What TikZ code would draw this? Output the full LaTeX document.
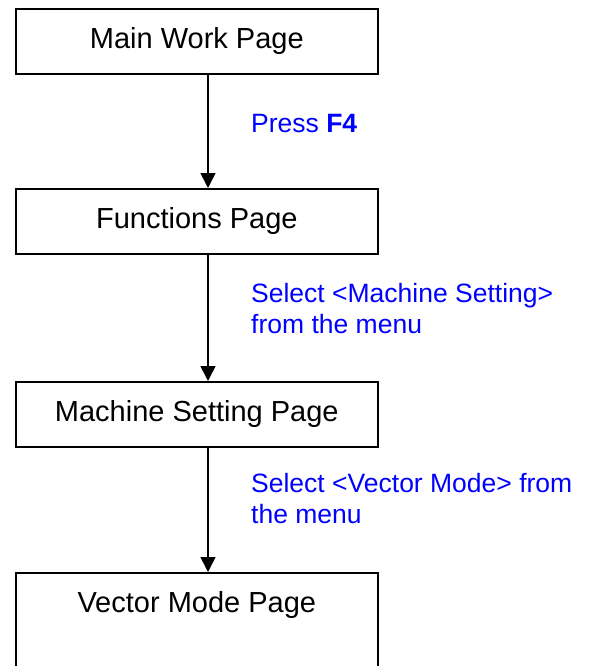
\documentclass[tikz,border=0pt]{standalone}
\usepackage{fontspec}
\setmainfont{Liberation Sans}
\usetikzlibrary{arrows.meta}
\begin{document}
\begin{tikzpicture}[x=1pt,y=1pt,
  pagebox/.style={draw=black, line width=1.6pt, anchor=north west,
    minimum width=362pt, inner xsep=0pt, inner ysep=19pt,
    text height=21pt, text depth=6pt, font=\fontsize{29}{34}\selectfont},
  flowarrow/.style={draw=black, line width=1.6pt,
    -{Triangle[width=15pt,length=15pt]}},
  steplabel/.style={anchor=north west, inner sep=0pt, align=left,
    text=blue, font=\fontsize{26.5}{31}\selectfont}]
\useasboundingbox (0,0) rectangle (592,-666);
\clip (0,0) rectangle (592,-666);
\node[pagebox] (b1) at (15,-8) {Main Work Page};
\node[pagebox] (b2) at (15,-188) {Functions Page};
\node[pagebox] (b3) at (15,-381) {Machine Setting Page};
\node[pagebox, text depth=120pt] (b4) at (15,-572) {Vector Mode Page};
\coordinate (ax) at (208,0);
\draw[flowarrow] (b1.south -| ax) -- (b2.north -| ax);
\draw[flowarrow] (b2.south -| ax) -- (b3.north -| ax);
\draw[flowarrow] (b3.south -| ax) -- (b4.north -| ax);
\node[steplabel] (l1) at (251,-114) {Press \textbf{F4}};
\node[steplabel] (l2) at (251,-283) {Select <Machine Setting>\\from the menu};
\node[steplabel] (l3) at (251,-473) {Select <Vector Mode> from\\the menu};
\end{tikzpicture}
\end{document}
